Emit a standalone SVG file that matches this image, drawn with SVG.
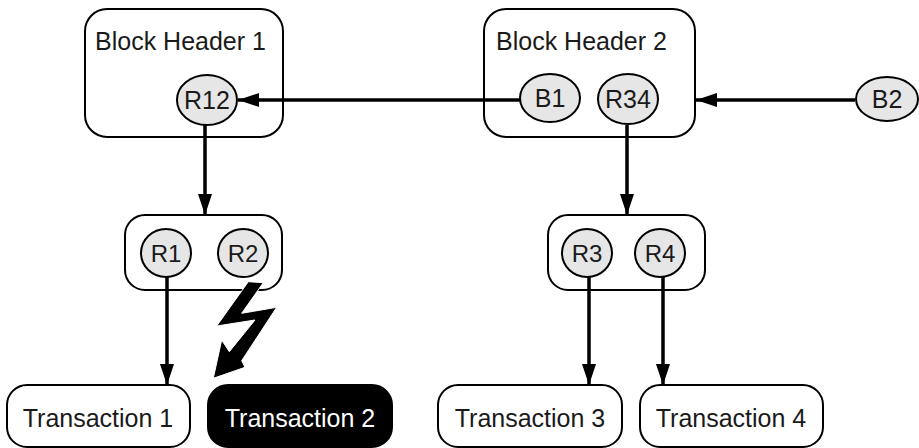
<svg xmlns="http://www.w3.org/2000/svg" width="919" height="448" viewBox="0 0 919 448">
<defs>
<style>
.box{fill:#fff;stroke:#000;stroke-width:2}
.dark{fill:#000;stroke:#000;stroke-width:2}
.node{fill:#e6e6e6;stroke:#000;stroke-width:2}
.t{font-family:"Liberation Sans",Arial,sans-serif;font-size:25px;fill:#1a1a1a}
.tc{text-anchor:middle}
.sm{font-size:24px}
.w{fill:#fff}
.conn{stroke:#000;stroke-width:3.5;fill:none;marker-end:url(#ah)}
</style>
<marker id="ah" markerWidth="6" markerHeight="4" viewBox="0 0 6 4" refX="6" refY="2" orient="auto" markerUnits="strokeWidth">
<path d="M0,0 L6,2 L0,4 Z" fill="#000"/>
</marker>
</defs>
<rect width="919" height="448" fill="#fff"/>
<g id="bh1">
<rect class="box" x="85" y="9" width="198" height="128" rx="22"/>
<text class="t" x="95" y="50">Block Header 1</text>
</g>
<g id="bh2">
<rect class="box" x="484" y="9" width="211" height="128" rx="22"/>
<text class="t" x="496" y="50">Block Header 2</text>
</g>
<g id="l2a">
<rect class="box" x="125" y="215" width="157" height="75" rx="20"/>
</g>
<g id="l2b">
<rect class="box" x="548" y="215" width="157" height="75" rx="20"/>
</g>
<g id="connectors">
<line class="conn" x1="520" y1="100" x2="238" y2="100"/>
<line class="conn" x1="855" y1="100" x2="696" y2="100"/>
<line class="conn" x1="205" y1="124" x2="205" y2="215"/>
<line class="conn" x1="627" y1="125" x2="627" y2="215"/>
<line class="conn" x1="167" y1="277" x2="167" y2="385"/>
<line class="conn" x1="589" y1="277" x2="589" y2="385"/>
<line class="conn" x1="663" y1="277" x2="663" y2="385"/>
</g>
<g id="R12"><ellipse class="node" cx="207" cy="100" rx="30" ry="25"/><text class="t tc" x="207" y="109">R12</text></g>
<g id="B1"><ellipse class="node" cx="550" cy="98" rx="30" ry="24"/><text class="t tc" x="550" y="107">B1</text></g>
<g id="R34"><ellipse class="node" cx="628" cy="99" rx="30" ry="25"/><text class="t tc" x="628" y="108">R34</text></g>
<g id="B2"><ellipse class="node" cx="887" cy="99" rx="31" ry="22"/><text class="t tc" x="887" y="108">B2</text></g>
<g id="R1"><ellipse class="node" cx="166" cy="253" rx="25" ry="24"/><text class="t tc sm" x="166" y="262">R1</text></g>
<g id="R2"><ellipse class="node" cx="243" cy="253" rx="25" ry="24"/><text class="t tc sm" x="243" y="262">R2</text></g>
<g id="R3"><ellipse class="node" cx="587" cy="253" rx="25" ry="24"/><text class="t tc sm" x="587" y="262">R3</text></g>
<g id="R4"><ellipse class="node" cx="660" cy="253" rx="25" ry="24"/><text class="t tc sm" x="660" y="262">R4</text></g>
<g id="bolt">
<polygon points="248.3,281.7 263.3,282.7 241.7,313.3 276.7,307.3 241.7,360.7 245,367.3 213.3,378.3 221.7,340 229.3,351.7 255,320 216.7,326" fill="#000" stroke="#fff" stroke-width="1"/>
</g>
<g id="tx1"><rect class="box" x="7" y="385" width="183" height="62" rx="20"/><text class="t tc" x="98" y="427">Transaction 1</text></g>
<g id="tx2"><rect class="dark" x="208" y="385" width="184" height="62" rx="20"/><text class="t tc w" x="300" y="427">Transaction 2</text></g>
<g id="tx3"><rect class="box" x="438" y="385" width="184" height="62" rx="20"/><text class="t tc" x="530" y="427">Transaction 3</text></g>
<g id="tx4"><rect class="box" x="640" y="385" width="183" height="62" rx="20"/><text class="t tc" x="731" y="427">Transaction 4</text></g>
</svg>
